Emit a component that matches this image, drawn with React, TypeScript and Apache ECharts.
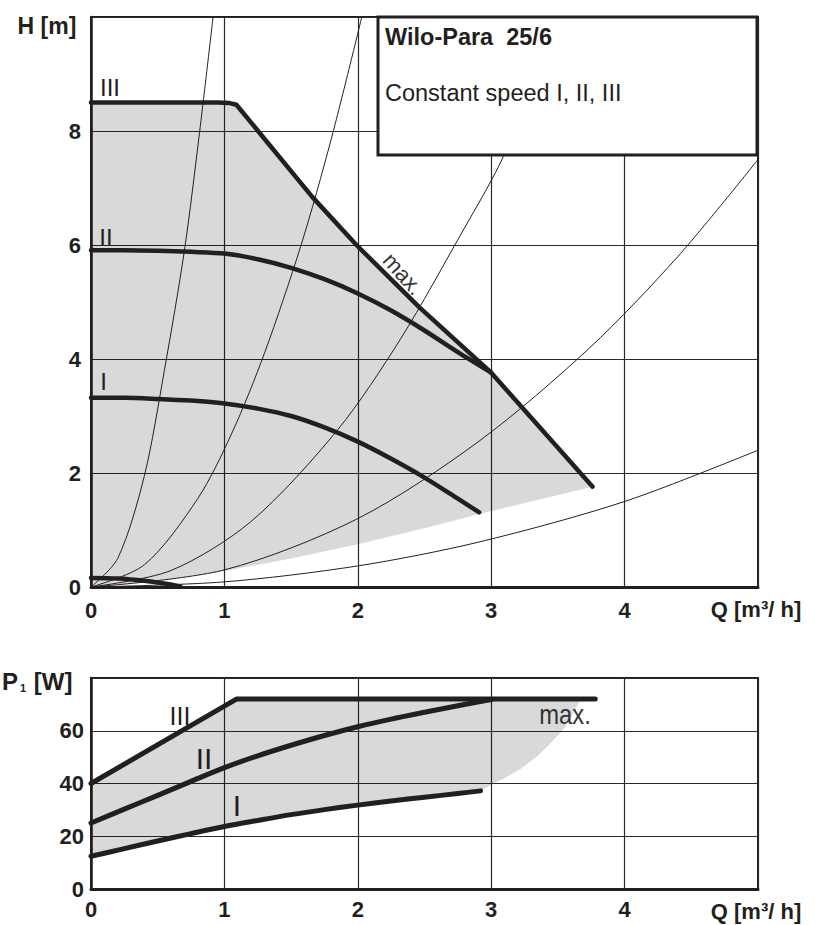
import React, { useEffect, useRef } from "react";
import * as echarts from "echarts";

const FONT = "'Liberation Sans', Arial, Helvetica, sans-serif";
const INK = "#231f20";
const GRIDC = "#2a2a2a";

// ---------- Top chart: delivery head H [m] over Q [m3/h] ----------
const qTickLabels = ["0", "1", "2", "3", "4"];
const hTickLabels = ["0", "2", "4", "6", "8"];
const pTickLabels = ["0", "20", "40", "60"];

const hSpeedI = [[0, 3.32], [0.25, 3.32], [0.5, 3.3], [0.75, 3.27], [1, 3.22], [1.25, 3.13], [1.5, 3.0], [1.75, 2.8], [2, 2.55], [2.25, 2.25], [2.5, 1.92], [2.75, 1.55], [2.91, 1.31]];
const hSpeedII = [[0, 5.91], [0.25, 5.91], [0.5, 5.9], [0.75, 5.88], [1, 5.85], [1.25, 5.75], [1.5, 5.6], [1.75, 5.4], [2, 5.15], [2.25, 4.85], [2.5, 4.5], [2.75, 4.12], [3.0, 3.76]];
const hMaxCurve = [[0, 8.5], [0.95, 8.5], [1.04, 8.49], [1.09, 8.46], [1.66, 6.84], [1.99, 6.0], [2.46, 4.91], [3.0, 3.76], [3.76, 1.76]];
const hMinCurve = [[0, 0.16], [0.2, 0.15], [0.4, 0.11], [0.55, 0.06], [0.67, 0.01]];
const hShadeLower = [[0, 0], [0.5, 0.1], [1, 0.28], [1.5, 0.5], [2, 0.75], [2.5, 1.03], [2.91, 1.28], [3.76, 1.76]];

// system curves (thin)
const sysA = [[0, 0], [0.2, 0.5], [0.4, 1.95], [0.55, 3.8], [0.7, 5.9], [0.815, 8.0], [0.915, 10]];
const sysB = [[0, 0], [0.4, 0.39], [0.8, 1.55], [1.06, 2.72], [1.3, 4.1], [1.575, 6.0], [1.8, 7.85], [2.03, 10]];
const sysC = [[0, 0], [0.6, 0.29], [1.2, 1.15], [1.85, 2.76], [2.32, 4.35], [2.8, 6.3], [3.06, 7.4], [3.3, 8.7], [3.54, 10]];
const sysD = [[0, 0], [1, 0.3], [2, 1.2], [2.91, 2.56], [3.74, 4.2], [4.4, 5.8], [5, 7.5]];
const sysF = [[0, 0], [1, 0.09], [2, 0.37], [2.91, 0.79], [4, 1.5], [5, 2.4]];

// ---------- Bottom chart: power P1 [W] over Q ----------
const pSpeedI = [[0, 12.4], [0.25, 15.3], [0.5, 18.2], [0.75, 21], [1, 23.7], [1.25, 26], [1.5, 28.2], [1.75, 30.1], [2, 31.8], [2.25, 33.4], [2.5, 34.8], [2.75, 36.2], [2.92, 37.2]];
const pSpeedII = [[0, 25], [0.25, 30.3], [0.5, 35.5], [0.75, 40.8], [1, 46], [1.25, 50.5], [1.5, 54.5], [1.75, 58.2], [2, 61.5], [2.25, 64.4], [2.5, 67], [2.75, 69.5], [3, 71.8]];
const pSpeedIII = [[0, 40], [1.09, 72], [3.78, 72]];
const pShadeRight = [[3.67, 72], [3.62, 67], [3.55, 61], [3.46, 56], [3.35, 50.5], [3.22, 45.5], [3.1, 42], [3.0, 39.5]];

const hShadePoly = [...hMaxCurve, ...hShadeLower.slice().reverse()];
const pShadePoly = [[0, 40], [1.09, 72], ...pShadeRight, ...pSpeedI.slice().reverse()];

function thin(data: number[][]) {
  return {
    type: "line", xAxisIndex: 0, yAxisIndex: 0, data, showSymbol: false, silent: true,
    smooth: 0.3,
    lineStyle: { color: INK, width: 1 }, z: 3,
  };
}
function thick(data: number[][], idx: number, width: number, smooth: number | boolean) {
  return {
    type: "line", xAxisIndex: idx, yAxisIndex: idx, data, showSymbol: false, silent: true,
    smooth,
    lineStyle: { color: INK, width, cap: "round", join: "round" }, z: 5,
  };
}
function shade(poly: number[][], idx: number) {
  return {
    type: "custom", xAxisIndex: idx, yAxisIndex: idx, data: [[0, 0]], silent: true, z: 1,
    renderItem: (_p: any, api: any) => ({
      type: "polygon",
      shape: { points: poly.map((p) => api.coord(p)) },
      style: { fill: "rgba(0,0,0,0.15)" },
    }),
  };
}

function labelFmt(list: string[]) {
  return (v: number) => (list.indexOf(String(v)) >= 0 ? String(v) : "");
}

function txt(text: string, x: number, y: number, size: number, opts: any = {}) {
  const align = opts.align || "center";
  return {
    type: "text", x, y, z: 200, rotation: opts.rotation || 0, scaleX: opts.scaleX || 1,
    style: {
      text, x: 0, y: 0, fontSize: size, fontFamily: FONT, fontWeight: opts.bold ? "bold" : "normal",
      fill: opts.color || INK, align, textAlign: align, verticalAlign: "middle", textVerticalAlign: "middle",
    },
  };
}

export default function App() {
  const ref = useRef<HTMLDivElement>(null);
  useEffect(() => {
    if (!ref.current) return;
    const chart = echarts.init(ref.current, undefined, { renderer: "svg" });
    const axisLbl = { fontSize: 22, fontWeight: "bold", fontFamily: FONT, color: INK };
    const split = { show: true, lineStyle: { color: GRIDC, width: 1.2 } };
    const option: any = {
      animation: false,
      backgroundColor: "#fff",
      grid: [
        { left: 91, top: 17, width: 667, height: 570, show: true, borderColor: INK, borderWidth: 2, backgroundColor: "transparent" },
        { left: 91, top: 678, width: 667, height: 211, show: true, borderColor: INK, borderWidth: 2, backgroundColor: "transparent" },
      ],
      xAxis: [
        {
          type: "value", gridIndex: 0, min: 0, max: 5, interval: 1,
          axisLine: { show: true, onZero: false, lineStyle: { color: INK, width: 3 } },
          axisTick: { show: false }, splitLine: split,
          axisLabel: { ...axisLbl, margin: 12, formatter: labelFmt(qTickLabels) },
        },
        {
          type: "value", gridIndex: 1, min: 0, max: 5, interval: 1,
          axisLine: { show: true, onZero: false, lineStyle: { color: INK, width: 3 } },
          axisTick: { show: false }, splitLine: split,
          axisLabel: { ...axisLbl, margin: 9, formatter: labelFmt(qTickLabels) },
        },
      ],
      yAxis: [
        {
          type: "value", gridIndex: 0, min: 0, max: 10, interval: 2,
          axisLine: { show: true, onZero: false, lineStyle: { color: INK, width: 2.5 } },
          axisTick: { show: false }, splitLine: split,
          axisLabel: { ...axisLbl, margin: 10, formatter: labelFmt(hTickLabels) },
        },
        {
          type: "value", gridIndex: 1, min: 0, max: 80, interval: 20,
          axisLine: { show: true, onZero: false, lineStyle: { color: INK, width: 2.5 } },
          axisTick: { show: false }, splitLine: split,
          axisLabel: { ...axisLbl, margin: 7, formatter: labelFmt(pTickLabels) },
        },
      ],
      series: [
        shade(hShadePoly, 0),
        thin(sysA), thin(sysB), thin(sysC), thin(sysD), thin(sysF),
        thick(hMinCurve, 0, 4.5, 0.3),
        thick(hSpeedI, 0, 4.5, 0.3),
        thick(hSpeedII, 0, 4.5, 0.3),
        thick(hMaxCurve, 0, 4.5, false),
        shade(pShadePoly, 1),
        thick(pSpeedI, 1, 5, 0.3),
        thick(pSpeedII, 1, 5, 0.3),
        thick(pSpeedIII, 1, 5, false),
      ],
      graphic: [
        {
          type: "rect", z: 150,
          shape: { x: 378, y: 17, width: 379, height: 138 },
          style: { fill: "#fff", stroke: INK, lineWidth: 3 },
        },
        txt("Wilo-Para  25/6", 385, 37, 23.5, { align: "left", bold: true }),
        txt("Constant speed I, II, III", 385, 93, 23.5, { align: "left" }),
        txt("H [m]", 47, 26, 23, { bold: true }),
        txt("Q [m³/ h]", 756, 609, 22, { bold: true }),
        txt("Q [m³/ h]", 756, 911, 22, { bold: true }),
        {
          type: "text", x: 2, y: 681, z: 200,
          style: {
            text: "{a|P}{b|1}{a| [W]}", x: 0, y: 0, align: "left", textAlign: "left",
            verticalAlign: "middle", textVerticalAlign: "middle",
            rich: {
              a: { fontSize: 24, fontWeight: "bold", fontFamily: FONT, fill: INK },
              b: { fontSize: 11, fontWeight: "bold", fontFamily: FONT, fill: INK, verticalAlign: "bottom", padding: [0, 1, 0, 2] },
            },
          },
        },
        txt("III", 110, 87, 24),
        txt("II", 106, 237, 24),
        txt("I", 103.5, 381, 24),
        txt("max.", 403, 274, 22, { rotation: -0.84, color: "#333" }),
        txt("III", 180, 716, 25),
        txt("II", 204, 758, 30),
        txt("I", 237, 805, 30),
        txt("max.", 565, 714, 28, { scaleX: 0.85, color: "#333" }),
      ],
    };
    chart.setOption(option);
    return () => chart.dispose();
  }, []);
  return <div ref={ref} style={{ position: "absolute", left: 0, top: 0, width: 815, height: 925 }} />;
}
